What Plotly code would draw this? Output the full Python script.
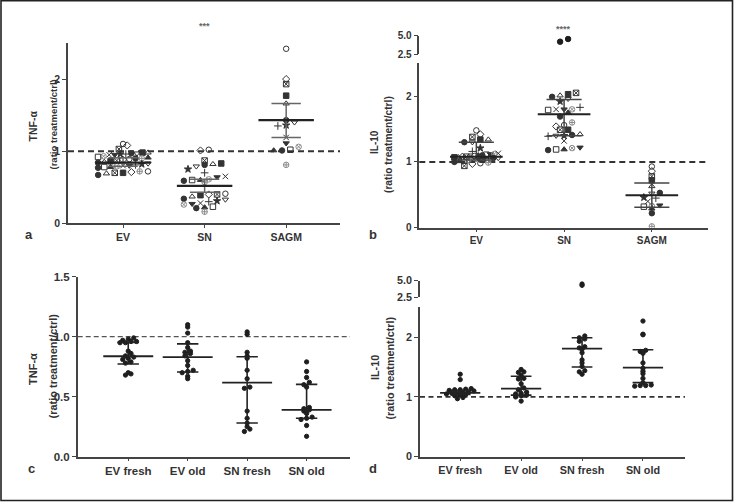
import math
import plotly.graph_objects as go

W, H = 735, 502

# ---------------- data ----------------
a_cats = ["EV", "SN", "SAGM"]
a_ev = [1.10, 1.08, 1.03, 0.98, 0.98, 0.97, 0.97, 0.96, 0.96, 0.95, 0.95, 0.93, 0.92, 0.91, 0.90,
        0.90, 0.89, 0.88, 0.87, 0.86, 0.85, 0.84, 0.83, 0.82, 0.81, 0.80, 0.80, 0.79, 0.78, 0.78,
        0.77, 0.72, 0.72, 0.71, 0.70, 0.70, 0.69, 0.67]
a_sn = [1.02, 1.01, 0.87, 0.83, 0.82, 0.81, 0.79, 0.75, 0.70, 0.65, 0.64, 0.61, 0.60, 0.60, 0.59,
        0.57, 0.41, 0.40, 0.40, 0.39, 0.37, 0.34, 0.33, 0.31, 0.30, 0.28, 0.27, 0.26, 0.23, 0.22,
        0.21, 0.16]
a_sagm = [2.42, 2.00, 1.93, 1.77, 1.66, 1.43, 1.40, 1.36, 1.35, 1.19, 1.11, 1.06, 1.02, 1.01, 1.01, 0.81]
a_median = [0.84, 0.52, 1.43]
a_q1 = [0.79, 0.43, 1.19]
a_q3 = [0.91, 0.61, 1.66]

b_cats = ["EV", "SN", "SAGM"]
b_ev = [1.48, 1.42, 1.38, 1.34, 1.34, 1.30, 1.30, 1.21, 1.16, 1.13, 1.12, 1.12, 1.11, 1.10, 1.10,
        1.09, 1.09, 1.08, 1.08, 1.07, 1.07, 1.06, 1.06, 1.05, 1.05, 1.04, 1.04, 1.03, 1.02, 1.01,
        1.00, 0.99, 0.98, 0.97, 0.94]
b_sn = [4.55, 4.18, 2.05, 2.03, 2.01, 1.99, 1.96, 1.92, 1.83, 1.80, 1.80, 1.80, 1.79, 1.75, 1.69,
        1.60, 1.56, 1.54, 1.49, 1.49, 1.42, 1.41, 1.40, 1.40, 1.39, 1.32, 1.22, 1.21, 1.19, 1.19, 1.18]
b_sagm = [0.93, 0.86, 0.78, 0.72, 0.63, 0.53, 0.52, 0.46, 0.45, 0.40, 0.34, 0.33, 0.32, 0.29, 0.22, 0.02]
b_median = [1.08, 1.725, 0.495]
b_q1 = [1.03, 1.40, 0.31]
b_q3 = [1.30, 1.95, 0.68]

c_cats = ["EV fresh", "EV old", "SN fresh", "SN old"]
c_ev_fresh = [0.99, 0.98, 0.97, 0.96, 0.96, 0.95, 0.95, 0.88, 0.86, 0.84, 0.83, 0.82, 0.81, 0.79,
              0.78, 0.70, 0.69, 0.68]
c_ev_old = [1.10, 1.08, 1.03, 0.95, 0.91, 0.88, 0.87, 0.86, 0.84, 0.80, 0.76, 0.72, 0.71, 0.70, 0.67, 0.65]
c_sn_fresh = [1.04, 1.02, 0.87, 0.84, 0.82, 0.72, 0.65, 0.58, 0.57, 0.38, 0.32, 0.28, 0.25, 0.23, 0.21]
c_sn_old = [0.79, 0.71, 0.66, 0.62, 0.60, 0.58, 0.41, 0.40, 0.39, 0.38, 0.36, 0.33, 0.32, 0.31, 0.26, 0.17]
c_median = [0.837, 0.83, 0.617, 0.39]
c_q1 = [0.772, 0.706, 0.281, 0.32]
c_q3 = [0.953, 0.94, 0.833, 0.603]

d_cats = ["EV fresh", "EV old", "SN fresh", "SN old"]
d_ev_fresh = [1.38, 1.29, 1.14, 1.13, 1.12, 1.12, 1.11, 1.10, 1.08, 1.07, 1.06, 1.06, 1.05, 1.04,
              1.03, 1.02, 0.99, 0.97]
d_ev_old = [1.46, 1.42, 1.41, 1.36, 1.31, 1.30, 1.22, 1.15, 1.12, 1.08, 1.06, 1.05, 1.03, 1.02, 1.00, 0.93]
d_sn_fresh = [4.50, 4.30, 2.02, 1.99, 1.97, 1.93, 1.84, 1.82, 1.80, 1.74, 1.62, 1.57, 1.51, 1.44, 1.42, 1.38]
d_sn_old = [2.27, 2.05, 2.04, 1.78, 1.76, 1.73, 1.57, 1.48, 1.43, 1.39, 1.31, 1.24, 1.20, 1.19, 1.19, 1.18]
d_median = [1.067, 1.14, 1.807, 1.49]
d_q1 = [1.04, 1.03, 1.50, 1.24]
d_q3 = [1.11, 1.345, 1.99, 1.79]

BREAK = 2.5

# ---------------- helpers ----------------
def px(v):
    return v / W

def py(v):
    return 1 - v / H

def gridswarm(vals, xscale, yfun, row_h, col_w, max_half):
    """GraphPad-like column scatter: values binned in rows, spread evenly in each row."""
    rows = {}
    for i, v in enumerate(vals):
        rows.setdefault(int(math.floor(yfun(v) / row_h)), []).append(i)
    offs = [0.0] * len(vals)
    for r, idx in rows.items():
        n = len(idx)
        sp = col_w
        if n > 1 and (n - 1) * sp / 2 > max_half:
            sp = 2 * max_half / (n - 1)
        idx = sorted(idx, key=lambda i: vals[i])
        for k, i in enumerate(idx):
            offs[i] = (k - (n - 1) / 2) * sp / xscale
    return offs

SYMS = ['circle-open', 'diamond-open', 'square-x-open', 'square', 'triangle-up-open', 'circle',
        'triangle-down-open', 'star', 'cross-thin-open', 'x-thin-open', 'triangle-down',
        'circle-x-open', 'square-open', 'triangle-up', 'circle', 'circle-cross-open']

INK = '#333333'
FONT = 'Liberation Sans, Arial, sans-serif'

fig = go.Figure()

def add_group_points(groups, xa, ya, ya_up, xscale, yfun, row_h, col_w, max_half, symbols, size):
    for gi, vals in enumerate(groups):
        offs = gridswarm(vals, xscale, yfun, row_h, col_w, max_half)
        lo_x, lo_y, lo_s, lo_c = [], [], [], []
        up_x, up_y, up_s, up_c = [], [], [], []
        for k, v in enumerate(vals):
            if symbols:
                s = symbols[k % len(symbols)]
                col = '#8a8a8a' if s in ('circle-x-open', 'circle-cross-open') else INK
            else:
                s, col = 'circle', '#1e1e1e'
            if ya_up is not None and v > BREAK:
                up_x.append(gi + offs[k]); up_y.append(v); up_s.append('circle'); up_c.append('#1e1e1e')
            else:
                lo_x.append(gi + offs[k]); lo_y.append(v); lo_s.append(s); lo_c.append(col)
        for xs, ys, ss, cs, yy in ((lo_x, lo_y, lo_s, lo_c, ya), (up_x, up_y, up_s, up_c, ya_up)):
            if not xs:
                continue
            fig.add_trace(go.Scatter(
                x=xs, y=ys, mode='markers', xaxis=xa, yaxis=yy, showlegend=False, hoverinfo='skip',
                marker=dict(symbol=ss, size=size, color=cs, line=dict(color=cs, width=1))))

def add_bars(med, q1, q3, xa, ya, wm, wq, cm, cq, lwm, lwq):
    mx, my, qx, qy = [], [], [], []
    for i, (m, l, u) in enumerate(zip(med, q1, q3)):
        mx += [i - wm, i + wm, None]; my += [m, m, None]
        qx += [i - wq, i + wq, None, i - wq, i + wq, None, i, i, None]
        qy += [l, l, None, u, u, None, l, u, None]
    fig.add_trace(go.Scatter(x=qx, y=qy, mode='lines', xaxis=xa, yaxis=ya, showlegend=False,
                             hoverinfo='skip', line=dict(color=cq, width=lwq)))
    fig.add_trace(go.Scatter(x=mx, y=my, mode='lines', xaxis=xa, yaxis=ya, showlegend=False,
                             hoverinfo='skip', line=dict(color=cm, width=lwm)))

# panel geometry (pixel values)
ya_a = lambda v: v * 72.0
ya_b = lambda v: v * 65.5 if v <= BREAK else 173.7 + (v - BREAK) / 2.5 * 18.3
ya_c = lambda v: v * 120.0
ya_d = lambda v: v * 60.0 if v <= BREAK else 159.4 + (v - BREAK) / 2.5 * 16.6

add_group_points([a_ev, a_sn, a_sagm], 'x', 'y', None, 81.5, ya_a, 6.0, 8.3, 25, SYMS, 5.5)
add_bars(a_median, a_q1, a_q3, 'x', 'y', 0.34, 0.18, '#222', '#666', 2.2, 1.5)

add_group_points([b_ev, b_sn, b_sagm], 'x2', 'y2', 'y5', 88.0, ya_b, 5.0, 8.0, 22, SYMS, 5.5)
add_bars(b_median, b_q1, b_q3, 'x2', 'y2', 0.30, 0.20, '#222', '#444', 2.0, 1.5)

add_group_points([c_ev_fresh, c_ev_old, c_sn_fresh, c_sn_old], 'x3', 'y3', None, 59.5, ya_c, 4.0, 5.5, 14, None, 4.3)
add_bars(c_median, c_q1, c_q3, 'x3', 'y3', 0.42, 0.18, '#222', '#222', 1.8, 1.6)

add_group_points([d_ev_fresh, d_ev_old, d_sn_fresh, d_sn_old], 'x4', 'y4', 'y6', 61.0, ya_d, 3.5, 5.5, 20, None, 4.3)
add_bars(d_median, d_q1, d_q3, 'x4', 'y4', 0.33, 0.17, '#222', '#222', 1.8, 1.6)

def xax(dom, rng, cats, anchor, fs):
    return dict(domain=[px(dom[0]), px(dom[1])], range=rng, anchor=anchor,
                tickvals=list(range(len(cats))), ticktext=cats, showline=True, linecolor='#444',
                linewidth=1.5, ticks='outside', ticklen=3, tickwidth=1.2, tickcolor='#444',
                showgrid=False, zeroline=False, fixedrange=True,
                tickfont=dict(family=FONT, size=fs, color=INK, weight='bold'))

def yax(dom, rng, tv, tt, anchor, fs):
    return dict(domain=[py(dom[0]), py(dom[1])], range=rng, anchor=anchor,
                tickvals=tv, ticktext=tt, showline=True, linecolor='#444', linewidth=1.5,
                ticks='outside', ticklen=4, tickwidth=1.2, tickcolor='#444',
                showgrid=False, zeroline=False, fixedrange=True,
                tickfont=dict(family=FONT, size=fs, color=INK, weight='bold'))

fig.update_layout(
    width=W, height=H, margin=dict(l=0, r=0, t=0, b=0, pad=0, autoexpand=False),
    paper_bgcolor='white', plot_bgcolor='white', showlegend=False,
    xaxis=xax((68, 340), [-0.675, 2.66], a_cats, 'y', 10.5),
    yaxis=yax((223.3, 43), [0, 2.5], [0, 1, 2], ['0', '1', '2'], 'x', 10.5),
    xaxis2=xax((419.3, 708), [-0.65, 2.64], b_cats, 'y2', 10),
    yaxis2=yax((227.7, 63.3), [0, 2.5], [0, 1, 2], ['0', '1', '2'], 'x2', 10),
    yaxis5=yax((54, 35.7), [2.5, 5.0], [2.5, 5.0], ['2.5', '5.0'], 'x2', 10),
    xaxis3=xax((77.7, 350), [-0.85, 3.73], c_cats, 'y3', 11.5),
    yaxis3=yax((456.7, 276.7), [0, 1.5], [0, 0.5, 1.0, 1.5], ['0.0', '0.5', '1.0', '1.5'], 'x3', 11.5),
    xaxis4=xax((420, 685), [-0.66, 3.69], d_cats, 'y4', 10.8),
    yaxis4=yax((456.7, 307.3), [0, 2.5], [0, 1, 2], ['0', '1', '2'], 'x4', 10.8),
    yaxis6=yax((297.3, 280.7), [2.5, 5.0], [2.5, 5.0], ['2.5', '5.0'], 'x4', 10.8),
)

shapes = []
for xa, ya, lw, col, dash in (('x', 'y', 2, '#333', '6px,4px'), ('x2', 'y2', 2, '#333', '6px,4px'),
                               ('x3', 'y3', 1.2, '#555', '5px,3px'), ('x4', 'y4', 1.8, '#333', '5px,3.5px')):
    shapes.append(dict(type='line', xref=xa + ' domain', yref=ya, x0=0, x1=1, y0=1, y1=1,
                       line=dict(color=col, width=lw, dash=dash), layer='below'))
shapes.append(dict(type='rect', xref='paper', yref='paper', x0=px(1), x1=px(732.5), y0=py(500.5), y1=py(0.8),
                   line=dict(color='#222', width=1.6)))
fig.update_layout(shapes=shapes)

ann = []
def text(x, y, s, size, angle=0, weight='bold', color=INK):
    ann.append(dict(x=px(x), y=py(y), xref='paper', yref='paper', text=s, showarrow=False,
                    textangle=angle, xanchor='center', yanchor='middle',
                    font=dict(family=FONT, size=size, color=color, weight=weight)))

text(29, 234, 'a', 13)
text(373, 234, 'b', 13)
text(32, 468, 'c', 13)
text(373, 468, 'd', 13)
text(204, 26, '***', 9, color='#666')
text(563, 29, '****', 9, color='#666')

text(32.5, 126, 'TNF-α', 10.5, -90)
text(52.5, 125, '(ratio treatment/ctrl)', 9.5, -90)
text(375, 142, 'IL-10', 10, -90)
text(389, 145, '(ratio treatment/ctrl)', 10.2, -90)
text(33, 369, 'TNF-α', 11, -90)
text(52.5, 366, '(ratio treatment/ctrl)', 11, -90)
text(375, 368, 'IL-10', 10.8, -90)
text(389.5, 368, '(ratio treatment/ctrl)', 10.8, -90)
fig.update_layout(annotations=ann)

fig.write_html("out.html", config={'displayModeBar': False},
               post_script="document.body.style.margin='0';document.body.style.overflow='hidden';")
